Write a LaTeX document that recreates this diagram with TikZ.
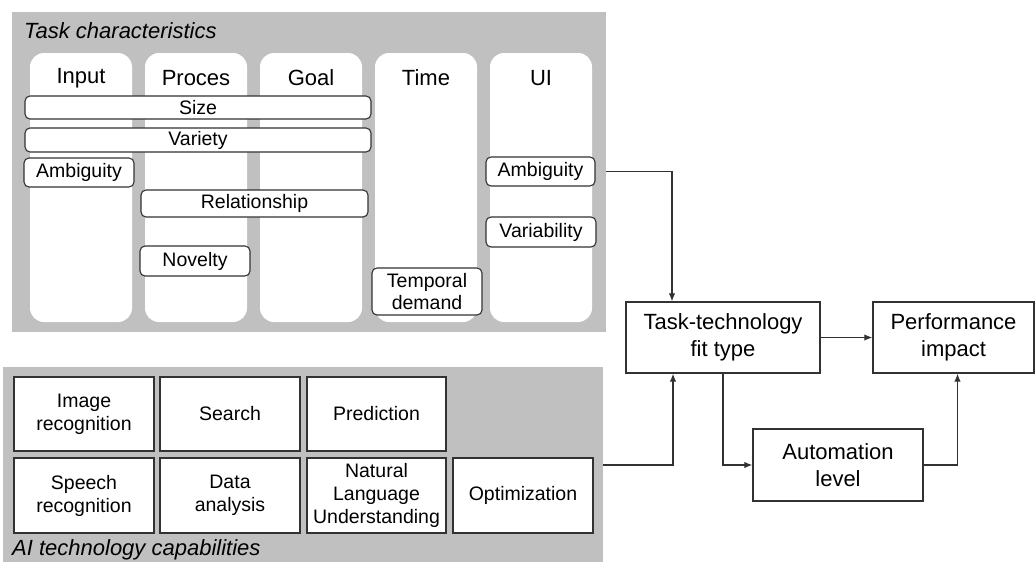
\documentclass[tikz,border=0pt]{standalone}
\usepackage{fontspec}
\setmainfont{Liberation Sans}
\usetikzlibrary{arrows.meta}

\definecolor{panelgray}{RGB}{192,192,192}
\definecolor{edge}{RGB}{50,50,50}

\tikzset{
  panel/.style={fill=panelgray, draw=none, inner sep=0pt, outer sep=0pt, anchor=north west},
  column/.style={fill=white, draw=none, rounded corners=14pt, inner sep=0pt, outer sep=0pt},
  header/.style={font=\fontsize{22}{26}\selectfont, inner sep=0pt},
  paneltitle/.style={font=\fontsize{22}{26}\selectfont\itshape, inner sep=0pt, anchor=base west},
  tag/.style={draw=edge, fill=white, rounded corners=5pt, line width=1.1pt,
    font=\fontsize{19.5}{22.5}\selectfont, inner sep=0pt, align=center},
  capability/.style={draw=edge, fill=white, line width=1.3pt,
    font=\fontsize{19.5}{23}\selectfont, inner sep=0pt, align=center},
  mainbox/.style={draw=edge, fill=white, line width=1.3pt,
    font=\fontsize{22}{27}\selectfont, inner sep=0pt, align=center},
  arr/.style={draw=edge, line width=1.2pt, -{Latex[length=8pt,width=6.5pt]}},
}

\begin{document}
\begin{tikzpicture}[x=1pt, y=-1pt]
\useasboundingbox (0,0) rectangle (1035,562);

% ---- task characteristics panel ----
\node[panel, minimum width=594pt, minimum height=320pt] (tc) at (12,12) {};
\node[paneltitle] (tctitle) at (24,38) {Task characteristics};

\foreach \name/\x/\lbl in {cin/30/Input, cpr/145/Proces, cgo/260/Goal, cti/375/Time, cui/490/UI}{
  \node[column, anchor=north west, minimum width=102pt, minimum height=269pt] (\name) at (\x,53) {};
  \node[header] (\name h) at (\x+51,78) {\lbl};
}

\node[tag, minimum width=346pt, minimum height=23pt] (size) at (198,107.5) {Size};
\node[tag, minimum width=346pt, minimum height=24pt] (variety) at (198,140) {Variety};
\node[tag, minimum width=110pt, minimum height=29pt] (inamb) at (79,172.5) {Ambiguity};
\node[tag, minimum width=227pt, minimum height=27pt] (relation) at (254.5,203.5) {Relationship};
\node[tag, minimum width=110pt, minimum height=30pt] (novelty) at (195,261) {Novelty};
\node[tag, minimum width=110pt, minimum height=47pt] (temporal) at (427,291.5) {Temporal\\demand};
\node[tag, minimum width=109pt, minimum height=29pt] (uiamb) at (540.5,171.5) {Ambiguity};
\node[tag, minimum width=110pt, minimum height=30pt] (variab) at (541,232) {Variability};

% ---- AI technology capabilities panel ----
\node[panel, minimum width=600pt, minimum height=195pt] (ai) at (3,367) {};
\node[paneltitle] (aititle) at (12,555) {AI technology capabilities};

\node[capability, minimum width=140pt, minimum height=74pt] (imgrec) at (84,414) {Image\\recognition};
\node[capability, minimum width=140pt, minimum height=74pt] (search) at (230,414) {Search};
\node[capability, minimum width=139pt, minimum height=74pt] (predict) at (376.5,414) {Prediction};
\node[capability, minimum width=140pt, minimum height=75pt] (speech) at (84,495.5) {Speech\\recognition};
\node[capability, minimum width=140pt, minimum height=75pt] (data) at (230,495.5) {Data\\analysis};
\node[capability, minimum width=139pt, minimum height=75pt] (nlu) at (376.5,495.5) {Natural\\Language\\Understanding};
\node[capability, minimum width=140pt, minimum height=75pt] (optim) at (523,495.5) {Optimization};

% ---- outcome boxes ----
\node[mainbox, minimum width=194pt, minimum height=71pt] (ttf) at (723,337.5) {Task-technology\\fit type};
\node[mainbox, minimum width=161pt, minimum height=71pt] (perf) at (953.5,337.5) {Performance\\impact};
\node[mainbox, minimum width=170pt, minimum height=72pt] (auto) at (838,465) {Automation\\level};

% ---- connectors ----
\draw[arr] (uiamb.east -| tc.east) -| ([xshift=-51pt]ttf.north);
\draw[arr] (auto.west -| ai.east) -| ([xshift=-50pt]ttf.south);
\draw[arr] (ttf.east) -- (perf.west);
\draw[arr] (ttf.south) |- (auto.west);
\draw[arr] (auto.east) -| ([xshift=4pt]perf.south);
\end{tikzpicture}
\end{document}
